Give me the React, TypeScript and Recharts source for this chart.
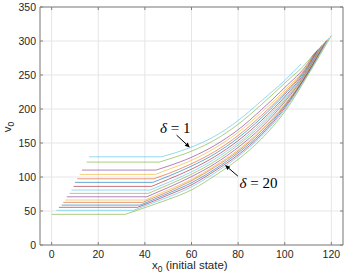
import React from 'react'
import { LineChart, Line, XAxis, YAxis, CartesianGrid, ReferenceArea, ReferenceLine, ReferenceDot } from 'recharts'

const xTicks = [0, 20, 40, 60, 80, 100, 120]
const yTicks = [0, 50, 100, 150, 200, 250, 300, 350]

// one entry per curve, from the top one (delta = 1) to the bottom one
const startX = [16, 15, 13, 12, 11, 10, 9.4, 8.5, 7.7, 6.5, 5.8, 5, 4.3, 3.1, 2, 0]
const level = [129.7, 121.9, 110.2, 103.8, 97.4, 92.1, 86.2, 80.8, 75.9, 70.9, 66.1, 62.7, 58.7, 55.4, 51, 45.1]
const kneeX = [47.2, 46.2, 44.8, 44.4, 43.9, 43.4, 42.9, 42.2, 41.5, 40.8, 40.1, 39.1, 38, 36.8, 35.1, 31.6]

// v read at these x0 values after the knee
const curveX = [40, 50, 60, 70, 80, 90, 100, 110]
const curveV: (number | null)[][] = [
  [null, 132.5, 144, 160, 183, 212, 242, null],
  [null, 126, 138, 154.5, 177.5, 206.5, 238, 270.5],
  [null, 116, 129, 146.5, 169.5, 199, 231.5, 267.5],
  [null, 111, 124.5, 142.5, 165.5, 195, 227.5, 266],
  [null, 105, 119.5, 137.5, 161, 190.5, 224, 264.5],
  [null, 101, 116, 134, 157.5, 187, 221.5, 263],
  [null, 96.5, 111.5, 130, 153.5, 183, 218, 261],
  [null, 92, 107.5, 126.5, 150, 179.5, 215.5, 259.5],
  [null, 88.5, 104, 123, 147, 176.5, 213, 258.5],
  [null, 84.5, 100.5, 119.5, 143.5, 173, 210.5, 257],
  [null, 81, 96.5, 116.5, 140, 170, 207.5, 255.5],
  [null, 78.5, 94.5, 114.5, 138, 168, 205.5, 254.5],
  [null, 76, 91.5, 111.5, 135.5, 165, 204, 253.5],
  [59.5, 73.5, 88.5, 109, 132.5, 162.5, 201.5, 253],
  [57.5, 70.5, 85.5, 106, 130, 160, 199, 252],
  [55, 67, 81, 102, 126, 156, 196, 250],
]
const endX = [107, 112.6, 113, 113.3, 113.7, 114, 114.5, 115, 115.5, 116, 116.5, 117, 117.7, 118.3, 119, 120]
const endV = [266, 281.5, 283, 284, 285.5, 286.5, 288.5, 290, 292, 294, 295.5, 297.5, 300, 302, 304.5, 308]

const colors = ['#4DBEEE', '#77AC30', '#7E2F8E', '#EDB120', '#D95319', '#0072BD', '#A2142F',
  '#4DBEEE', '#77AC30', '#7E2F8E', '#EDB120', '#D95319', '#0072BD', '#A2142F', '#4DBEEE', '#77AC30']

const AXIS = '#808080'
const TEXT = '#262626'
const FONT = '"Liberation Sans", Arial, sans-serif'
const SERIF = '"Liberation Serif", "DejaVu Serif", serif'
const PLOT_TOP = 7
const PLOT_RIGHT = 343

const flats = level.map((v, i) => [{ x: startX[i], v }, { x: kneeX[i], v }])
const curves = level.map((v, i) => {
  const pts = [{ x: kneeX[i], v }]
  curveX.forEach((x, j) => {
    const val = curveV[i][j]
    if (val !== null && x > kneeX[i] && x < endX[i]) pts.push({ x, v: val })
  })
  pts.push({ x: endX[i], v: endV[i] })
  return pts
})

function XTick({ x, y, payload }: any) {
  return (
    <g>
      <line x1={x} y1={y} x2={x} y2={y - 3} stroke={AXIS} />
      <line x1={x} y1={PLOT_TOP} x2={x} y2={PLOT_TOP + 3} stroke={AXIS} />
      <text x={x} y={y + 13.3} textAnchor="middle" fontSize={10.5} fontFamily={FONT} fill={TEXT}>{payload.value}</text>
    </g>
  )
}

function YTick({ x, y, payload }: any) {
  return (
    <g>
      <line x1={x} y1={y} x2={x + 3} y2={y} stroke={AXIS} />
      <line x1={PLOT_RIGHT} y1={y} x2={PLOT_RIGHT - 3} y2={y} stroke={AXIS} />
      <text x={x - 4} y={y + 3.7} textAnchor="end" fontSize={10.5} fontFamily={FONT} fill={TEXT}>{payload.value}</text>
    </g>
  )
}

function Arrow(props: any) {
  const { x1, y1, x2, y2 } = props
  const a = Math.atan2(y2 - y1, x2 - x1)
  const len = 5
  const w = 2.2
  const bx = x2 - len * Math.cos(a)
  const by = y2 - len * Math.sin(a)
  const pts = `${x2},${y2} ${bx - w * Math.sin(a)},${by + w * Math.cos(a)} ${bx + w * Math.sin(a)},${by - w * Math.cos(a)}`
  return (
    <g>
      <line x1={x1} y1={y1} x2={bx} y2={by} stroke="#000" strokeWidth={1} />
      <polygon points={pts} fill="#000" />
    </g>
  )
}

function deltaLabel(n: string) {
  return (props: any) => (
    <text x={props.cx} y={props.cy} fontSize={15} fontFamily={SERIF} fill="#000">
      <tspan fontStyle="italic">δ</tspan>
      <tspan> = {n}</tspan>
    </text>
  )
}

export default function App() {
  return (
    <div style={{ position: 'absolute', left: 0, top: 0, width: 346, height: 279, background: '#fff' }}>
      <LineChart width={346} height={279} margin={{ top: PLOT_TOP, right: 3, left: 0, bottom: 0 }}>
        <CartesianGrid stroke="#e6e6e6" />
        <XAxis type="number" dataKey="x" domain={[-5, 125]} ticks={xTicks} interval={0} allowDataOverflow
          height={34} tickSize={0} tickMargin={0} axisLine={false} tickLine={false} tick={<XTick />} />
        <YAxis type="number" dataKey="v" domain={[0, 350]} ticks={yTicks} interval={0} allowDataOverflow
          width={40} tickSize={0} tickMargin={0} axisLine={false} tickLine={false} tick={<YTick />} />
        <ReferenceArea x1={-5} x2={125} y1={0} y2={350} fill="none" stroke={AXIS} strokeWidth={1} />
        {flats.map((d, i) => (
          <Line key={'f' + i} data={d} dataKey="v" type="linear" stroke={colors[i]} strokeOpacity={0.6}
            strokeWidth={1} dot={false} isAnimationActive={false} />
        ))}
        {curves.map((d, i) => (
          <Line key={'c' + i} data={d} dataKey="v" type="monotone" stroke={colors[i]} strokeOpacity={0.6}
            strokeWidth={1} dot={false} isAnimationActive={false} />
        ))}
        <ReferenceLine segment={[{ x: 53.6, y: 161.6 }, { x: 59.3, y: 143.5 }]} shape={Arrow} />
        <ReferenceLine segment={[{ x: 79.9, y: 101.3 }, { x: 74.4, y: 117.5 }]} shape={Arrow} />
        <ReferenceDot x={46.5} y={165} r={0} shape={deltaLabel('1')} />
        <ReferenceDot x={80.6} y={83.3} r={0} shape={deltaLabel('20')} />
      </LineChart>
      <div style={{ position: 'absolute', left: 152, top: 259, fontFamily: FONT, fontSize: 11.5, color: TEXT, whiteSpace: 'nowrap' }}>
        x<sub style={{ fontSize: 8.5 }}>0</sub> (initial state)
      </div>
      <div style={{ position: 'absolute', left: 7, top: 127, width: 0, height: 0 }}>
        <div style={{ position: 'absolute', transform: 'translate(-50%, -50%) rotate(-90deg)', fontFamily: FONT, fontSize: 11.5, color: TEXT, whiteSpace: 'nowrap', lineHeight: '12px' }}>
          v<sub style={{ fontSize: 8.5, lineHeight: 0 }}>0</sub>
        </div>
      </div>
    </div>
  )
}
